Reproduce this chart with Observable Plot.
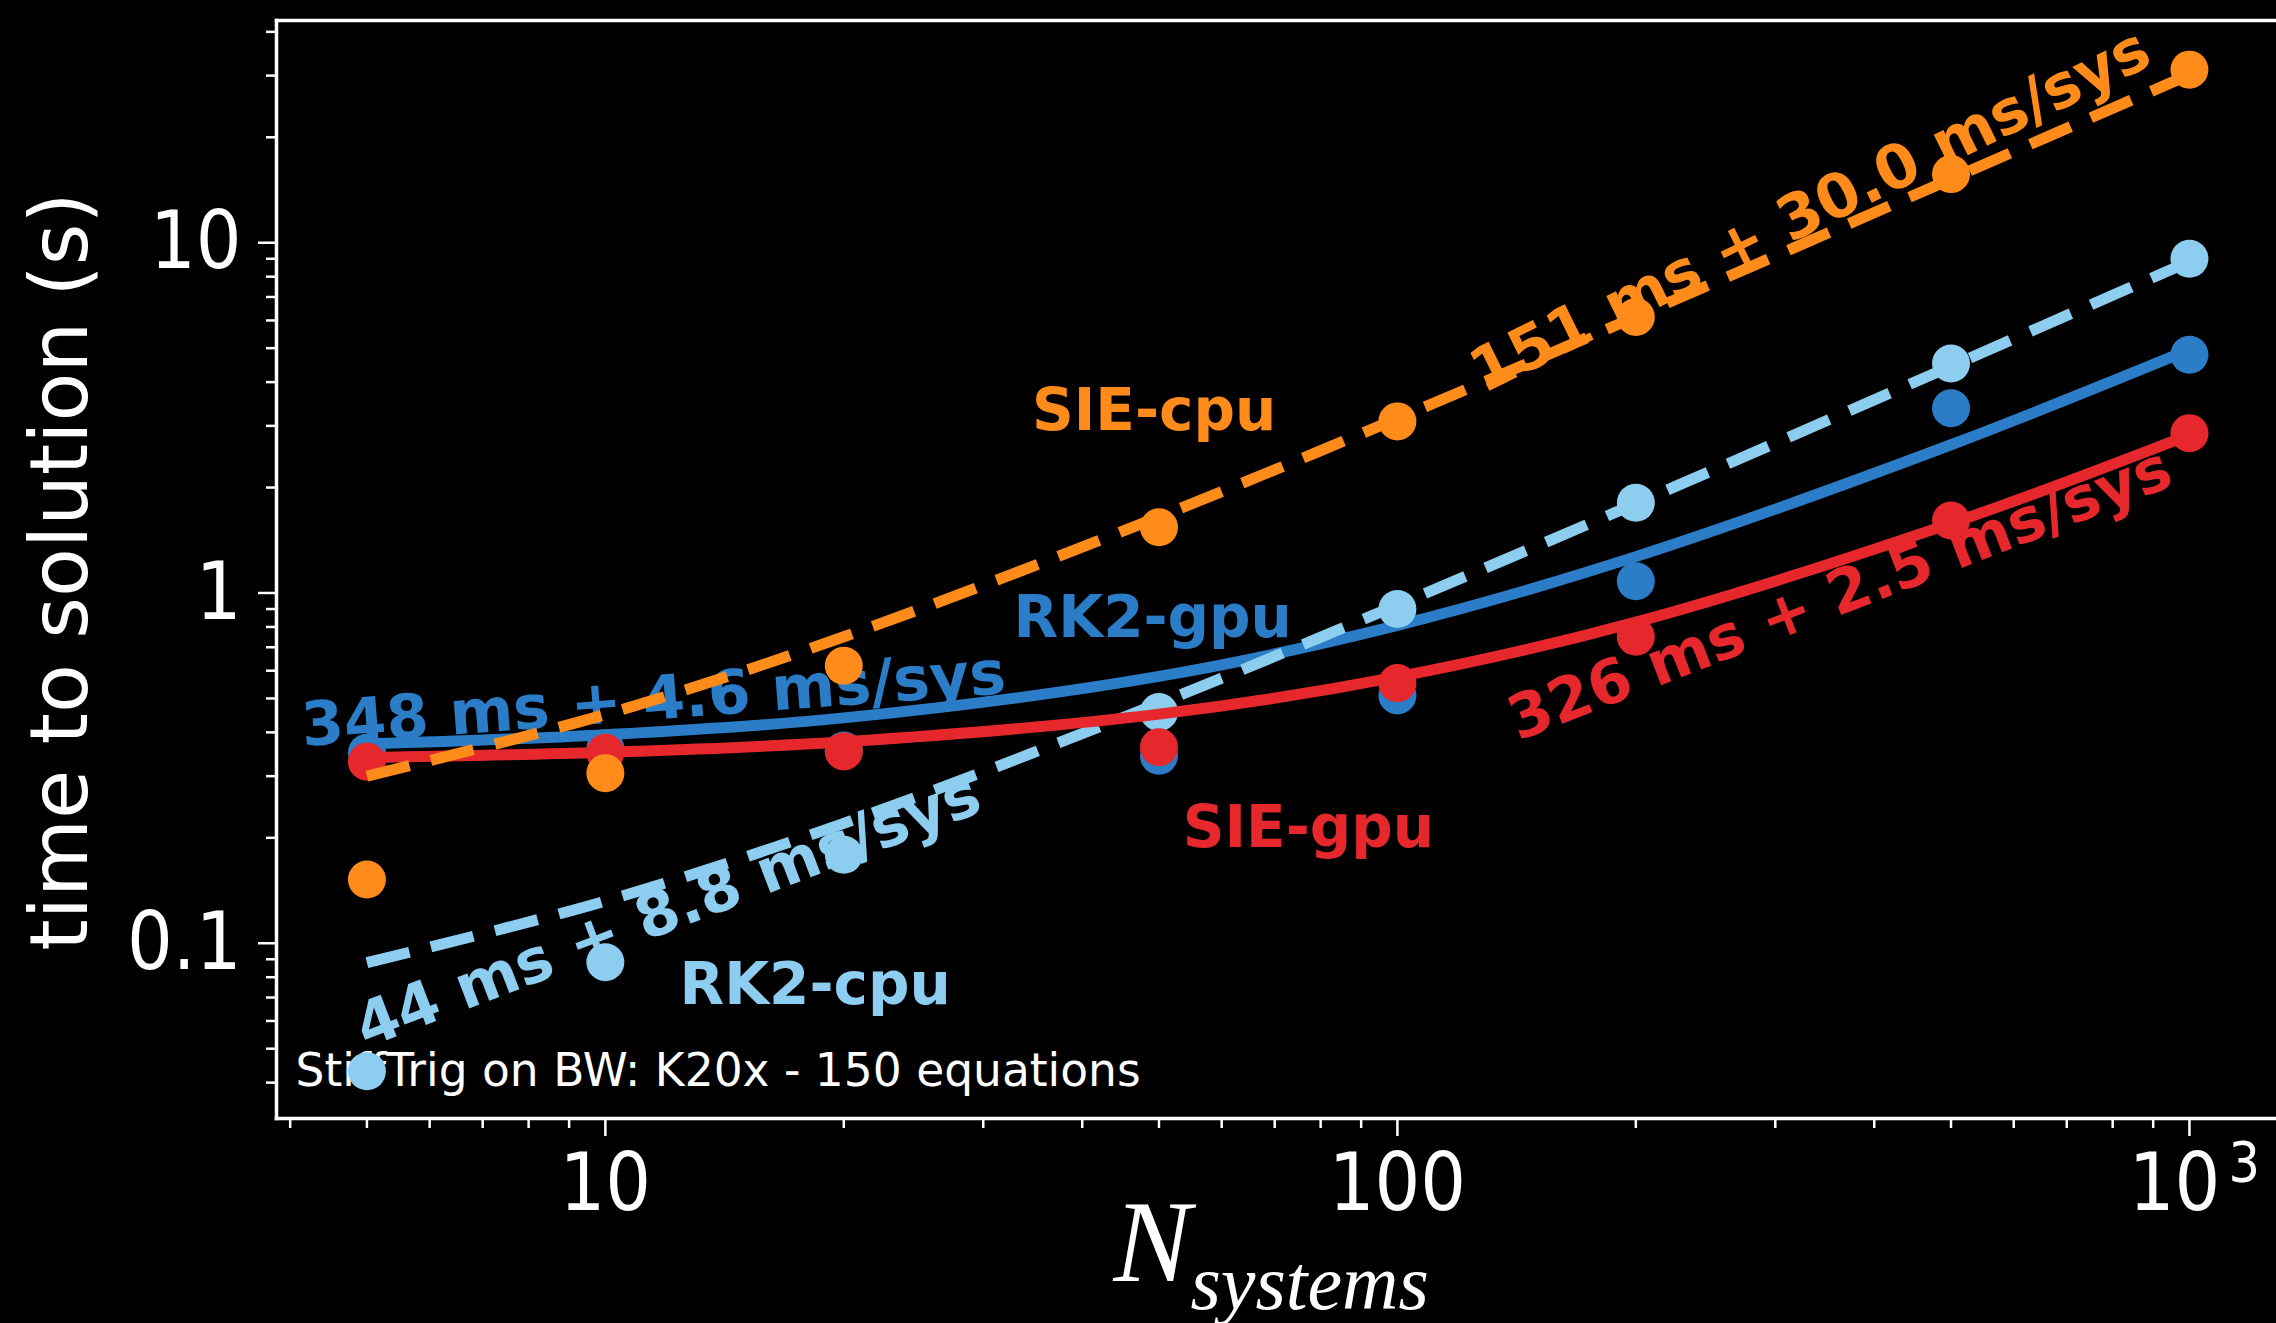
<!DOCTYPE html>
<html><head><meta charset="utf-8">
<script src="https://cdn.jsdelivr.net/npm/d3@7"></script>
<script src="https://cdn.jsdelivr.net/npm/@observablehq/plot@0.6"></script>
<style>
html,body{margin:0;padding:0;background:#000;overflow:hidden;}
#chart svg{display:block;}
.cond{font-stretch:condensed;}
</style></head><body><div id="chart"></div>
<script>
// ---- data ----
const nSystems = [5, 10, 20, 50, 100, 200, 500, 1000];

const sieCpu = [0.152, 0.306, 0.62, 1.54, 3.09, 6.14, 15.7, 31.2];
const rk2Cpu = [0.0431, 0.0883, 0.179, 0.457, 0.90, 1.81, 4.52, 9.0];
const rk2Gpu = [0.35, 0.36, 0.355, 0.343, 0.51, 1.08, 3.37, 4.79];
const sieGpu = [0.33, 0.35, 0.353, 0.363, 0.553, 0.75, 1.61, 2.86];

// fit curves
const sieCpuFit = [0.30, 0.45, 0.75, 1.65, 3.15, 6.15, 15.2, 30.2];
const rk2CpuFit = [0.088, 0.132, 0.220, 0.484, 0.924, 1.80, 4.44, 8.84];
const rk2GpuFit = [0.371, 0.394, 0.440, 0.578, 0.808, 1.27, 2.65, 4.95];
const sieGpuFit = [0.339, 0.351, 0.376, 0.451, 0.576, 0.826, 1.58, 2.83];

const seriesNames = ["RK2-gpu", "RK2-cpu", "SIE-gpu", "SIE-cpu"];
const fitLabels = ["348 ms + 4.6 ms/sys", "44 ms + 8.8 ms/sys", "326 ms + 2.5 ms/sys", "151 ms + 30.0 ms/sys"];

const xTicks = [10, 100, 1000];
const xTickLabels = ["10", "100", ""];
const xPowerTick = [1000];
const xPowerBase = "10";
const xPowerExp = "3";
const yTicks = [0.1, 1, 10];
const yTickLabels = ["0.1", "1", "10"];
const xMinor = [4, 5, 6, 7, 8, 9, 20, 30, 40, 50, 60, 70, 80, 90, 200, 300, 400, 500, 600, 700, 800, 900];
const yMinor = [0.04, 0.05, 0.06, 0.07, 0.08, 0.09, 0.2, 0.3, 0.4, 0.5, 0.6, 0.7, 0.8, 0.9, 2, 3, 4, 5, 6, 7, 8, 9, 20, 30, 40];

const caption = "StiffTrig on BW: K20x - 150 equations";
const yLabel = "time to solution (s)";

// ---- styling ----
const colors = {"RK2-gpu": "#2a7dc6", "RK2-cpu": "#8ccdf0", "SIE-gpu": "#e6282d", "SIE-cpu": "#ff8c1a"};
const dashed = {"RK2-gpu": false, "RK2-cpu": true, "SIE-gpu": false, "SIE-cpu": true};
const tickFont = "'DejaVu Sans Condensed', 'DejaVu Sans', sans-serif";

const pointsBy = {"RK2-gpu": rk2Gpu, "RK2-cpu": rk2Cpu, "SIE-gpu": sieGpu, "SIE-cpu": sieCpu};
const fitsBy = {"RK2-gpu": rk2GpuFit, "RK2-cpu": rk2CpuFit, "SIE-gpu": sieGpuFit, "SIE-cpu": sieCpuFit};

// annotation placement (label anchors in data coordinates)
const nameAnno = [
  {s: "SIE-cpu", n: 49.3, t: 3.29},
  {s: "RK2-gpu", n: 49.1, t: 0.848},
  {s: "SIE-gpu", n: 77.2, t: 0.213},
  {s: "RK2-cpu", n: 18.4, t: 0.0758}
];
const fitAnno = [
  {s: "RK2-gpu", n: 11.5, t: 0.495, a: -4.3},
  {s: "RK2-cpu", n: 12.0, t: 0.1235, a: -21},
  {s: "SIE-gpu", n: 362, t: 0.99, a: -21.3},
  {s: "SIE-cpu", n: 332, t: 12.3, a: -26.2}
];

const marks = [];
// text first (lines and dots go on top, as in the reference)
for (const a of nameAnno) {
  marks.push(Plot.text([a], {x: "n", y: "t", text: d => d.s, fill: colors[a.s], fontSize: 58, fontWeight: "bold", fontFamily: "DejaVu Sans"}));
}
fitAnno.forEach((a) => {
  const label = fitLabels[seriesNames.indexOf(a.s)];
  marks.push(Plot.text([a], {x: "n", y: "t", text: () => label, rotate: a.a, fill: colors[a.s], fontSize: 61, fontWeight: "bold", fontFamily: "DejaVu Sans"}));
});
marks.push(Plot.text([caption], {text: d => d, frameAnchor: "bottom-left", dx: 19, dy: -47, textAnchor: "start", lineAnchor: "middle", fontSize: 45.5, fill: "#fff", fontFamily: "DejaVu Sans"}));

for (const s of seriesNames) {
  const fit = nSystems.map((n, i) => ({n, t: fitsBy[s][i]}));
  const pts = nSystems.map((n, i) => ({n, t: pointsBy[s][i]}));
  marks.push(Plot.line(fit, {x: "n", y: "t", stroke: colors[s], strokeWidth: 11, curve: "catmull-rom",
    strokeDasharray: dashed[s] ? "44,22" : null, strokeLinecap: "butt"}));
  marks.push(Plot.dot(pts, {x: "n", y: "t", r: 19, fill: colors[s]}));
}

// axes
const fmtX = d => xTickLabels[xTicks.indexOf(d)];
const fmtY = d => yTickLabels[yTicks.indexOf(d)];
marks.push(Plot.axisX({ticks: xMinor, tickSize: 10, tickFormat: () => "", stroke: "#fff", strokeWidth: 2.5, label: null}));
marks.push(Plot.axisX({ticks: xTicks, tickSize: 18, tickPadding: 17, tickFormat: fmtX, fontSize: 80, stroke: "#fff", strokeWidth: 2.5, label: null, fill: "#fff", fontFamily: tickFont, className: "cond"}));
marks.push(Plot.text(xPowerTick, {x: d => d, frameAnchor: "bottom", text: () => xPowerBase, dx: -15, dy: 35, lineAnchor: "top", textAnchor: "middle", fontSize: 80, fill: "#fff", fontFamily: tickFont, className: "cond"}));
marks.push(Plot.text(xPowerTick, {x: d => d, frameAnchor: "bottom", text: () => xPowerExp, dx: 39, dy: 62, lineAnchor: "bottom", textAnchor: "start", fontSize: 55, fill: "#fff", fontFamily: tickFont, className: "cond"}));
marks.push(Plot.axisY({ticks: yMinor, tickSize: 10, tickFormat: () => "", stroke: "#fff", strokeWidth: 2.5, label: null}));
marks.push(Plot.axisY({ticks: yTicks, tickSize: 18, tickPadding: 17, tickFormat: fmtY, fontSize: 80, stroke: "#fff", strokeWidth: 2.5, label: null, fill: "#fff", fontFamily: tickFont, className: "cond"}));
marks.push(Plot.frame({anchor: "left", stroke: "#fff", strokeWidth: 3.5}));
marks.push(Plot.frame({anchor: "top", stroke: "#fff", strokeWidth: 3.5}));
marks.push(Plot.frame({anchor: "bottom", stroke: "#fff", strokeWidth: 3.5}));

// axis titles
marks.push(Plot.text([yLabel], {text: d => d, frameAnchor: "left", textAnchor: "middle", lineAnchor: "middle", rotate: -90, dx: -215, dy: 2, fontSize: 80, fill: "#fff", fontFamily: "DejaVu Sans"}));
marks.push(Plot.text(["N"], {text: d => d, frameAnchor: "bottom", dx: -163, dy: 162, textAnchor: "start", lineAnchor: "bottom", fontSize: 116, fontStyle: "italic", fontFamily: "Liberation Serif", fill: "#fff"}));
marks.push(Plot.text(["systems"], {text: d => d, frameAnchor: "bottom", dx: -86, dy: 190, textAnchor: "start", lineAnchor: "bottom", fontSize: 78, fontStyle: "italic", fontFamily: "Liberation Serif", fill: "#fff"}));

const chart = Plot.plot({
  width: 2276,
  height: 1323,
  marginLeft: 276,
  marginRight: 0,
  marginTop: 20,
  marginBottom: 205,
  x: {type: "log", domain: [3.844, 1288]},
  y: {type: "log", domain: [0.0316, 43.1]},
  style: {background: "#000", color: "#fff", fontFamily: "DejaVu Sans", overflow: "visible"},
  marks
});
document.getElementById("chart").appendChild(chart);
</script>
</body></html>
